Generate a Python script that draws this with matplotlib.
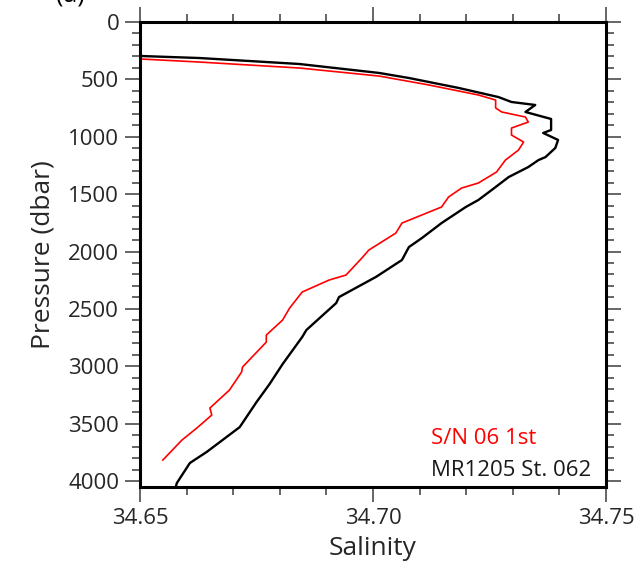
import matplotlib

matplotlib.use("Agg")
import matplotlib.pyplot as plt
from matplotlib.ticker import MultipleLocator

plt.rcParams["font.family"] = ["Open Sans", "DejaVu Sans"]

# MR1205 St. 062 (CTD reference profile)
ctd_sal = [34.6500, 34.6628, 34.6842, 34.7013, 34.7077, 34.7184, 34.7269,
           34.7297, 34.7348, 34.7327, 34.7382, 34.7382, 34.7365, 34.7397,
           34.7391, 34.7370, 34.7355, 34.7333, 34.7291, 34.7263, 34.7226,
           34.7199, 34.7147, 34.7105, 34.7077, 34.7062, 34.7006, 34.6927,
           34.6921, 34.6857, 34.6848, 34.6806, 34.6778, 34.6750, 34.6714,
           34.6643, 34.6607, 34.6579, 34.6575]
ctd_pres = [296, 314, 366, 444, 488, 575, 654, 697, 723, 784, 845, 941, 967,
            1028, 1098, 1177, 1203, 1264, 1351, 1438, 1551, 1612, 1752, 1882,
            1961, 2074, 2222, 2397, 2449, 2684, 2745, 2981, 3155, 3312, 3530,
            3747, 3843, 4018, 4079]

# float S/N 06, first profile
flt_sal = [34.6500, 34.6628, 34.6842, 34.7013, 34.7120, 34.7226, 34.7263,
           34.7263, 34.7276, 34.7327, 34.7333, 34.7297, 34.7297, 34.7323,
           34.7312, 34.7284, 34.7265, 34.7226, 34.7190, 34.7162, 34.7147,
           34.7062, 34.7049, 34.6991, 34.6976, 34.6942, 34.6906, 34.6848,
           34.6821, 34.6806, 34.6771, 34.6771, 34.6720, 34.6718, 34.6692,
           34.6650, 34.6654, 34.6622, 34.6590, 34.6549]
flt_pres = [322, 349, 401, 471, 549, 636, 680, 749, 784, 828, 872, 924, 985,
            1046, 1116, 1203, 1307, 1403, 1447, 1525, 1612, 1752, 1839, 1987,
            2057, 2205, 2248, 2353, 2493, 2597, 2728, 2789, 3007, 3050, 3207,
            3364, 3425, 3538, 3643, 3817]

fig = plt.figure(figsize=(6.38, 5.7), dpi=100)
ax = fig.add_axes([0.2194, 0.1456, 0.7306, 0.8158])

ax.plot(ctd_sal, ctd_pres, color="black", lw=1.7)
ax.plot(flt_sal, flt_pres, color="red", lw=1.2)

ax.set_xlim(34.65, 34.75)
ax.set_ylim(4052, 0)
ax.xaxis.set_major_locator(MultipleLocator(0.05))
ax.xaxis.set_minor_locator(MultipleLocator(0.01))
ax.yaxis.set_major_locator(MultipleLocator(500))
ax.yaxis.set_minor_locator(MultipleLocator(100))
ax.xaxis.set_major_formatter(lambda v, p: f"{v:.2f}")

ax.tick_params(which="both", direction="out", top=True, right=True,
               color="0.35", width=1.3, labelsize=16, labelcolor="0.15")
ax.tick_params(which="major", length=11, pad=4)
ax.tick_params(which="minor", length=5.5)
for s in ax.spines.values():
    s.set_linewidth(2.2)

ax.set_xlabel("Salinity", fontsize=19, labelpad=5, color="0.15")
ax.set_ylabel("Pressure (dbar)", fontsize=19, labelpad=9, color="0.15")

ax.text(0.625, 0.105, "S/N 06 1st", color="red", fontsize=16,
        transform=ax.transAxes, va="center", ha="left")
ax.text(0.625, 0.035, "MR1205 St. 062", color="0.1", fontsize=16,
        transform=ax.transAxes, va="center", ha="left")

fig.text(0.088, 0.9965, "(a)", fontsize=18, va="baseline", ha="left")

fig.savefig("out.png", dpi=100)
